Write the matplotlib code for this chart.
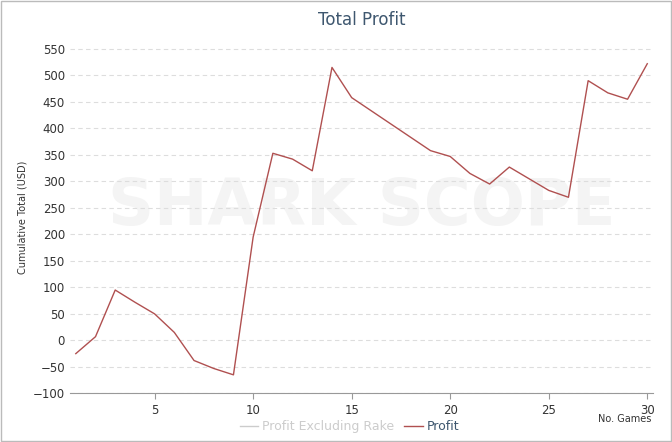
import matplotlib
matplotlib.use("Agg")
import matplotlib.pyplot as plt
from matplotlib.lines import Line2D

games = list(range(1, 31))
profit = [-25, 7, 95, 72, 50, 15, -38, -53, -65, 195, 353, 342, 320, 515, 458, 433,
          408, 383, 358, 347, 315, 295, 327, 305, 283, 270, 490, 467, 455, 522]
yticks = list(range(-100, 551, 50))
xticks = [5, 10, 15, 20, 25, 30]

fig = plt.figure(figsize=(6.72, 4.42), dpi=100)
fig.patches.append(plt.Rectangle((0.002, 0.002), 0.996, 0.996, transform=fig.transFigure,
                                 fill=False, edgecolor="#bbbbbb", lw=1))
ax = fig.add_axes([0.104, 0.11, 0.868, 0.795])
ax.text(0.5, 0.53, "SHARK SCOPE", transform=ax.transAxes, ha="center", va="center",
        fontsize=46, fontweight="bold", color="#f4f4f4", zorder=0)
ax.plot(games, profit, color="#b05050", lw=1, zorder=3)
ax.set_xlim(0.7, 30.3)
ax.set_ylim(-100, 563)
ax.set_yticks(yticks)
ax.set_xticks(xticks)
ax.grid(axis="y", ls=(0, (4, 3)), color="#dddddd", lw=0.8)
for s in ["top", "right", "left"]:
    ax.spines[s].set_visible(False)
ax.spines["bottom"].set_color("#999999")
ax.tick_params(axis="y", length=0, labelsize=8.5, colors="#333333")
ax.tick_params(axis="x", length=4, labelsize=8.5, colors="#333333", color="#999999")
ax.set_ylabel("Cumulative Total (USD)", fontsize=7, color="#333333")
ax.set_title("Total Profit", fontsize=12, color="#3e576f", pad=12)
fig.text(0.97, 0.045, "No. Games", ha="right", fontsize=7, color="#333333")
h = [Line2D([], [], color="#cccccc", lw=1), Line2D([], [], color="#b05050", lw=1)]
leg = fig.legend(h, ["Profit Excluding Rake", "Profit"], loc="lower center", ncol=2,
                 bbox_to_anchor=(0.52, -0.005), frameon=False, fontsize=9, handlelength=1.5,
                 columnspacing=0.8, handletextpad=0.3)
leg.get_texts()[0].set_color("#cccccc")
leg.get_texts()[1].set_color("#3e576f")
fig.savefig("out.png", dpi=100)
